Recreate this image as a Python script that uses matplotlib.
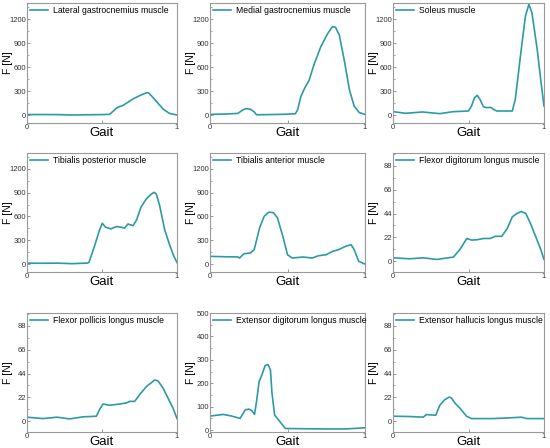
import matplotlib
matplotlib.use("Agg")
import matplotlib.pyplot as plt
from matplotlib.ticker import MultipleLocator

plt.rcParams['font.family'] = ['Liberation Sans', 'DejaVu Sans']

titles = ["Lateral gastrocnemius muscle", "Medial gastrocnemius muscle", "Soleus muscle",
          "Tibialis posterior muscle", "Tibialis anterior muscle", "Flexor digitorum longus muscle",
          "Flexor pollicis longus muscle", "Extensor digitorum longus muscle", "Extensor hallucis longus muscle"]

lat_x = [0, 0.1, 0.2, 0.3, 0.4, 0.5, 0.55, 0.57, 0.6, 0.64, 0.71, 0.76, 0.8, 0.81, 0.83, 0.86, 0.91, 0.95, 1.0]
lat_y = [5, 6, 5, 0, 3, 5, 8, 40, 92, 120, 204, 250, 280, 275, 240, 175, 70, 20, 0]

med_x = [0, 0.1, 0.18, 0.21, 0.23, 0.26, 0.285, 0.30, 0.38, 0.46, 0.55, 0.565, 0.586, 0.61, 0.64, 0.67,
         0.715, 0.76, 0.79, 0.81, 0.834, 0.866, 0.9, 0.93, 0.963, 1.0]
med_y = [8, 12, 20, 62, 80, 72, 40, 3, 5, 8, 15, 62, 230, 333, 437, 625, 854, 1020, 1104, 1096, 1000,
         687, 312, 112, 30, 8]

sol_x = [0, 0.085, 0.196, 0.31, 0.4, 0.5, 0.52, 0.54, 0.558, 0.576, 0.598, 0.62, 0.647, 0.665, 0.687,
         0.73, 0.79, 0.81, 0.844, 0.877, 0.9, 0.92, 0.955, 0.978, 1.0]
sol_y = [42, 21, 38, 17, 42, 50, 112, 217, 246, 196, 104, 92, 96, 71, 50, 50, 50, 196, 737, 1237, 1383,
         1279, 820, 446, 112]

tp_x = [0, 0.1, 0.2, 0.3, 0.4, 0.413, 0.45, 0.484, 0.502, 0.524, 0.56, 0.596, 0.63, 0.65, 0.673, 0.707,
        0.73, 0.76, 0.796, 0.83, 0.847, 0.862, 0.884, 0.918, 0.95, 0.978, 1.0]
tp_y = [12, 10, 12, 5, 12, 20, 226, 432, 514, 464, 444, 473, 464, 452, 505, 485, 555, 719, 822, 884, 904,
        884, 740, 432, 247, 103, 20]

ta_x = [0, 0.1, 0.18, 0.19, 0.22, 0.26, 0.285, 0.32, 0.35, 0.38, 0.41, 0.435, 0.47, 0.5, 0.53, 0.6,
        0.66, 0.70, 0.75, 0.79, 0.83, 0.875, 0.91, 0.93, 0.96, 1.0]
ta_y = [97, 92, 90, 76, 131, 139, 182, 456, 604, 655, 646, 583, 350, 118, 76, 89, 76, 105, 118, 160, 182,
        224, 245, 182, 34, 0]

fdl_x = [0, 0.11, 0.2, 0.29, 0.4, 0.444, 0.489, 0.52, 0.555, 0.6, 0.644, 0.678, 0.72, 0.756, 0.79, 0.82,
         0.85, 0.88, 0.91, 0.944, 0.978, 1.0]
fdl_y = [3.1, 2.2, 3.1, 1.6, 3.8, 11, 21, 19.5, 19.8, 21, 21, 23, 23, 30, 41, 44, 46, 44, 35, 23, 11, 1.6]

fpl_x = [0, 0.107, 0.2, 0.284, 0.373, 0.462, 0.484, 0.507, 0.55, 0.618, 0.662, 0.684, 0.718, 0.75, 0.796,
         0.851, 0.873, 0.907, 0.951, 0.973, 1.0]
fpl_y = [3.7, 2.4, 3.7, 2.1, 4.0, 4.6, 10.7, 15.9, 14.7, 15.9, 16.8, 18.3, 18.3, 24.4, 32, 38, 37.3, 30.6,
         18.3, 12.2, 2.4]

edl_x = [0, 0.086, 0.14, 0.194, 0.227, 0.25, 0.27, 0.287, 0.30, 0.317, 0.335, 0.356, 0.374, 0.39, 0.40,
         0.417, 0.443, 0.486, 0.6, 0.75, 0.875, 1.0]
edl_y = [60, 67, 60, 50, 86, 90, 83, 67, 121, 207, 236, 276, 280, 257, 157, 64, 43, 7, 6, 5, 5, 10]

ehl_x = [0, 0.11, 0.2, 0.22, 0.283, 0.31, 0.343, 0.372, 0.387, 0.41, 0.442, 0.487, 0.52, 0.664, 0.774,
         0.85, 0.885, 1.0]
ehl_y = [4.6, 4.3, 3.7, 6.1, 5.5, 14.7, 19.9, 22.3, 21.4, 16.8, 12.2, 4.6, 2.4, 2.4, 3.1, 3.7, 2.4, 2.4]

series = [(lat_x, lat_y), (med_x, med_y), (sol_x, sol_y), (tp_x, tp_y), (ta_x, ta_y),
          (fdl_x, fdl_y), (fpl_x, fpl_y), (edl_x, edl_y), (ehl_x, ehl_y)]

big = dict(ylim=(-100, 1400), ticks=[0, 300, 600, 900, 1200], minor=150)
small = dict(ylim=(-10, 100), ticks=[0, 22, 44, 66, 88], minor=11)
edl = dict(ylim=(-8, 500), ticks=[0, 100, 200, 300, 400, 500], minor=50)
axes_cfg = [big, big, big, big, big, small, small, edl, small]

W, H = 550, 448
cols = [(27, 177), (210, 365), (393, 544)]
rows = [(3, 123), (153, 272), (313, 432)]
color = '#2e9aa3'

fig = plt.figure(figsize=(5.5, 4.48), dpi=100)
for i in range(9):
    r, c = divmod(i, 3)
    x0, x1 = cols[c]
    y0, y1 = rows[r]
    ax = fig.add_axes([x0 / W, 1 - y1 / H, (x1 - x0) / W, (y1 - y0) / H])
    xs, ys = series[i]
    cfg = axes_cfg[i]
    ax.plot(xs, ys, color=color, lw=1.2, label=titles[i])
    ax.set_xlim(0, 1)
    ax.set_ylim(*cfg['ylim'])
    ax.set_yticks(cfg['ticks'])
    ax.yaxis.set_minor_locator(MultipleLocator(cfg['minor']))
    ax.set_xticks([0, 0.5, 1])
    ax.set_xticklabels(['0', '', '1'])
    ax.tick_params(direction='in', labelsize=5.5, length=2.5, width=0.6, color='#888888', pad=0.8,
                   labelcolor='#333333')
    ax.tick_params(which='minor', direction='in', length=1.5, width=0.5, color='#888888')
    for s in ax.spines.values():
        s.set_color('#999999')
        s.set_linewidth(0.8)
    ax.set_ylabel('F [N]', fontsize=7.5)
    ax.yaxis.set_label_coords(-14 / (x1 - x0), 0.5)
    ax.text(0.5, -0.035, 'Gait', transform=ax.transAxes, ha='center', va='top', fontsize=9.5)
    ax.legend(loc='upper left', frameon=False, fontsize=6.2, handlelength=2.0, handletextpad=0.6,
              borderaxespad=0.2, borderpad=0.2)

fig.savefig('out.png', dpi=100)
